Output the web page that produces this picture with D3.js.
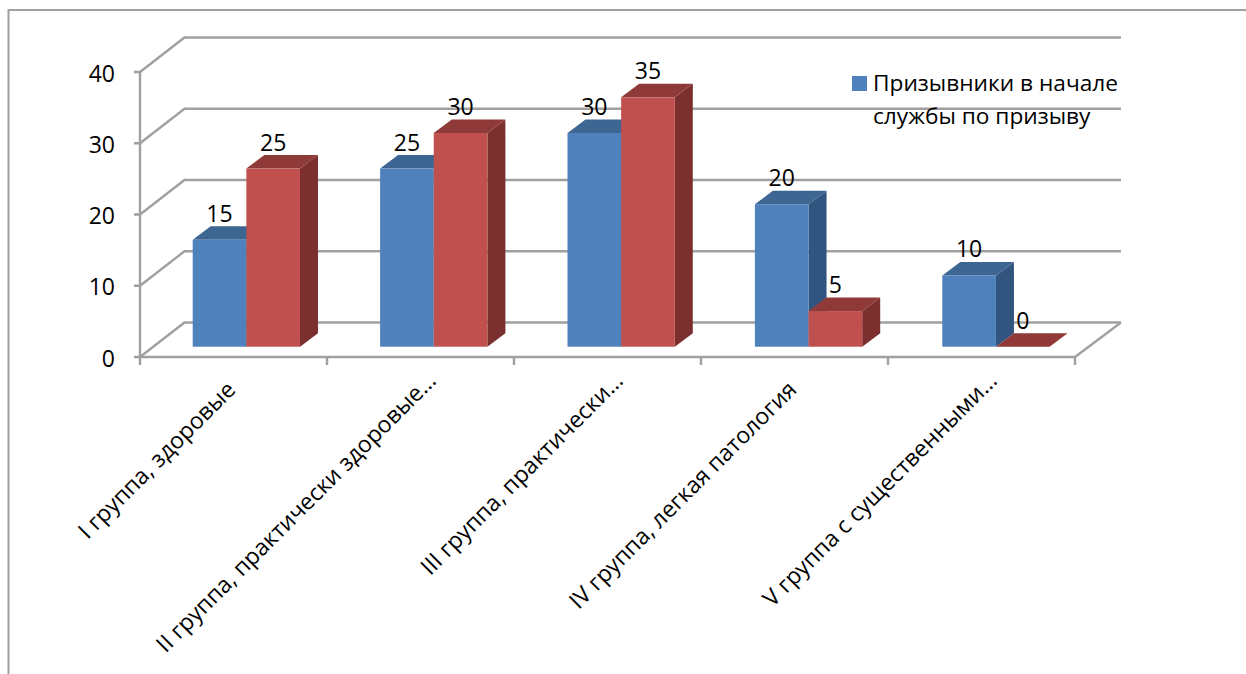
<!DOCTYPE html>
<html lang="ru">
<head>
<meta charset="utf-8">
<style>
  html, body { margin: 0; padding: 0; background: #fff; }
  svg { display: block; }
  text { font-family: "Open Sans", sans-serif; fill: #000; font-variant-ligatures: none; }
</style>
<script src="https://cdn.jsdelivr.net/npm/d3@7/dist/d3.min.js"></script>
</head>
<body>
<svg id="chart" width="1246" height="674"></svg>
<script>
const categories = [
  "I группа, здоровые",
  "II группа, практически здоровые…",
  "III группа, практически…",
  "IV группа, легкая патология",
  "V группа с существенными…"
];
const seriesStart = [15, 25, 30, 20, 10];
const seriesEnd = [25, 30, 35, 5, 0];
const yTicks = [0, 10, 20, 30, 40];
const legendLines = ["Призывники в начале", "службы по призыву"];

const palette = [
  { front: "#4f81bd", top: "#3e6693", side: "#32557f" },
  { front: "#c0504d", top: "#8f3a39", side: "#7b2f2e" }
];
const series = [seriesStart, seriesEnd];

// Oblique projection: the back wall sits up and to the right of the front plane.
const wall = { dx: 44.5, dy: -34.5 };
const bar = { dx: 18, dy: -13.5, lift: -10.3 };
const gridColor = "#a0a0a0";

const svg = d3.select("#chart");
const x = d3.scaleBand().domain(categories).range([140, 1075]);
const barX = d3.scaleBand().domain(categories).range([140, 1077]);
const y = d3.scaleLinear().domain([0, 40]).range([357, 72]);
const inner = d3.scaleBand().domain([0, 1]).range([52.7, 160]);

// Outer frame: only the top and left edges are visible.
svg.append("path")
  .attr("d", "M8.5,674V10H1246")
  .attr("fill", "none").attr("stroke", "#a0a0a0").attr("stroke-width", 2);

// Walls and floor
const line = d3.line();
const grid = svg.append("g").attr("fill", "none")
  .attr("stroke", gridColor).attr("stroke-width", 2.4);
grid.selectAll("path.wall").data(yTicks).join("path").attr("class", "wall")
  .attr("d", t => line([
    [x.range()[0] - 6, y(t)],
    [x.range()[0], y(t)],
    [x.range()[0] + wall.dx, y(t) + wall.dy],
    [1121, y(t) + wall.dy]
  ]));
grid.append("path").attr("d", line([
  [x.range()[0], y(40)], [x.range()[0], y(0)], [x.range()[1], y(0)], [1121, y(0) + wall.dy]
]));
const boundaries = categories.map(c => x(c)).concat(x.range()[1]);
grid.selectAll("path.tick").data(boundaries).join("path").attr("class", "tick")
  .attr("d", b => line([[b, y(0)], [b, y(0) + 8]]));

// Value axis labels
svg.append("g").selectAll("text").data(yTicks).join("text")
  .attr("x", 115).attr("y", t => y(t) + 9.5)
  .attr("text-anchor", "end").attr("font-size", 23)
  .text(t => t);

// Bars, drawn left to right so nearer faces overlap correctly
const bars = svg.append("g");
categories.forEach((c, i) => {
  series.forEach((values, s) => {
    const v = values[i];
    const x0 = barX(c) + inner(s);
    const x1 = x0 + inner.bandwidth();
    const yb = y(0) + bar.lift;
    const yt = y(v) + bar.lift;
    const g = bars.append("g");
    if (v > 0) {
      g.append("path").attr("fill", palette[s].side).attr("d", line([
        [x1, yt], [x1 + bar.dx, yt + bar.dy], [x1 + bar.dx, yb + bar.dy], [x1, yb]
      ]) + "Z");
    }
    g.append("path").attr("fill", palette[s].top).attr("d", line([
      [x0, yt], [x0 + bar.dx, yt + bar.dy], [x1 + bar.dx, yt + bar.dy], [x1, yt]
    ]) + "Z");
    if (v > 0) {
      g.append("rect").attr("fill", palette[s].front)
        .attr("x", x0).attr("y", yt).attr("width", x1 - x0).attr("height", yb - yt);
    }
  });
});

// Value labels above each bar
const labels = svg.append("g").attr("text-anchor", "middle").attr("font-size", 23);
categories.forEach((c, i) => {
  series.forEach((values, s) => {
    labels.append("text")
      .attr("x", barX(c) + inner(s) + inner.bandwidth() / 2)
      .attr("y", y(values[i]) + bar.lift - 18)
      .text(values[i]);
  });
});

// Category labels, rotated; shortened labels run a little further towards the axis
svg.append("g").selectAll("text").data(categories).join("text")
  .attr("text-anchor", "end").attr("font-size", 23)
  .attr("transform", c => {
    const shortened = c.endsWith("…");
    const ex = x(c) + x.bandwidth() / 2 + (shortened ? 17 : 3.5);
    const ey = y(0) + (shortened ? 25 : 34);
    return `translate(${ex},${ey}) rotate(-45)`;
  })
  .text(c => c);

// Legend
const legend = svg.append("g");
legend.append("rect").attr("x", 852).attr("y", 76).attr("width", 15).attr("height", 15)
  .attr("fill", palette[0].front);
legend.selectAll("text").data(legendLines).join("text")
  .attr("x", 873).attr("y", (d, i) => 91 + i * 33)
  .attr("font-size", 22.7)
  .text(d => d);
</script>
</body>
</html>
